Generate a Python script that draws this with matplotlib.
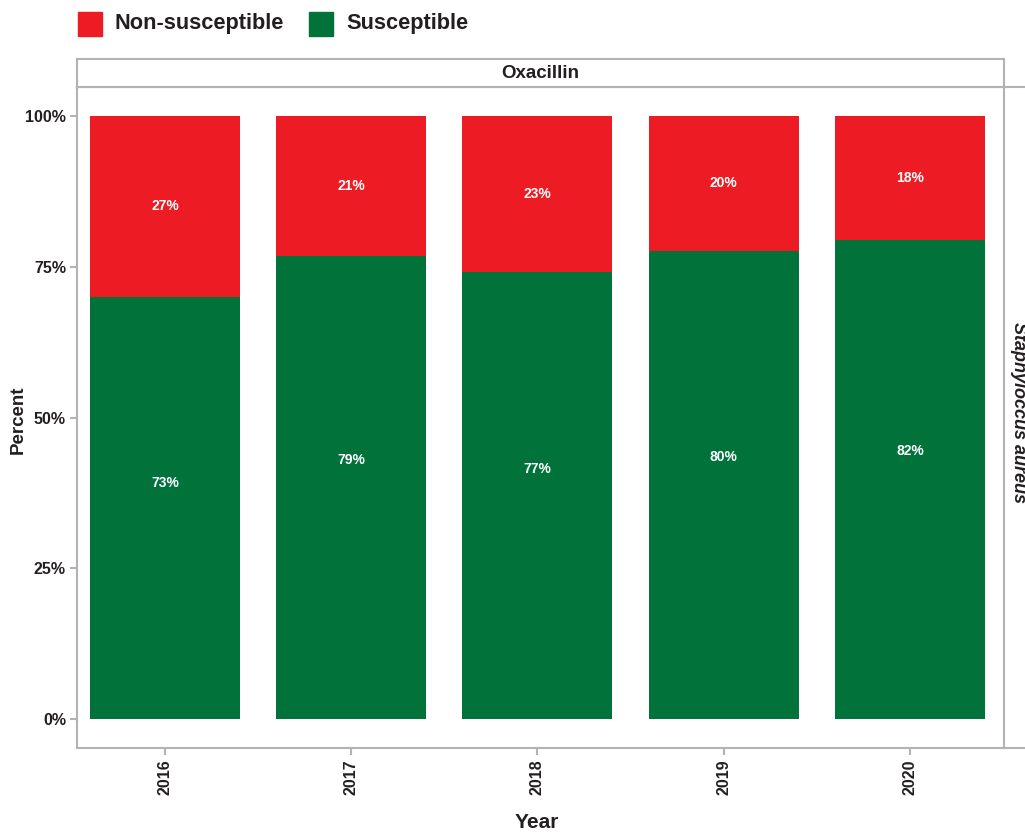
import numpy as np
import matplotlib
matplotlib.use("Agg")
import matplotlib.pyplot as plt
from matplotlib.patches import Rectangle
from matplotlib.lines import Line2D

plt.rcParams['font.family'] = ['Liberation Sans', 'DejaVu Sans']

# data
years = ['2016', '2017', '2018', '2019', '2020']
susceptible = [0.700, 0.768, 0.741, 0.776, 0.794]     # bar height of green part
nonsusceptible = [1 - s for s in susceptible]
susc_labels = ['73%', '79%', '77%', '80%', '82%']
nonsusc_labels = ['27%', '21%', '23%', '20%', '18%']

RED = '#ed1c24'
GREEN = '#00723a'
GRID = '#b3b3b5'
TXT = '#231f20'

W, H = 1025, 834
fig = plt.figure(figsize=(W / 100, H / 100), dpi=100)
fig.patch.set_facecolor('white')

def fx(px):
    return px / W

def fy(py):
    return 1 - py / H

# main panel
ax = fig.add_axes([fx(77), fy(748), fx(1004) - fx(77), fy(87) - fy(748)])
x = np.arange(len(years))
ax.bar(x, susceptible, width=0.805, color=GREEN, linewidth=0)
ax.bar(x, nonsusceptible, bottom=susceptible, width=0.805, color=RED, linewidth=0)

for i in range(len(years)):
    ax.text(x[i], susceptible[i] * 0.56, susc_labels[i], color='white',
            fontsize=10, fontweight='bold', ha='center', va='center')
    ax.text(x[i], susceptible[i] + nonsusceptible[i] / 2, nonsusc_labels[i],
            color='white', fontsize=10, fontweight='bold', ha='center', va='center')

ax.set_xlim(-0.472, 4.505)
ax.set_ylim(-0.048, 1.048)
ax.set_yticks([0, 0.25, 0.5, 0.75, 1.0])
ax.set_yticklabels(['0%', '25%', '50%', '75%', '100%'])
ax.set_xticks(x)
ax.set_xticklabels(years, rotation=90)
for lab in ax.get_xticklabels() + ax.get_yticklabels():
    lab.set_fontweight('bold')
    lab.set_fontsize(11.5)
    lab.set_color(TXT)
ax.tick_params(axis='both', color=GRID, length=5, width=1.5, pad=3)
for s in ax.spines.values():
    s.set_color(GRID)
    s.set_linewidth(1.5)

fig.text(fx(18), fy(420), 'Percent', rotation=90, fontsize=13.5, fontweight='bold',
         color=TXT, ha='center', va='center')
fig.text(fx(537), fy(823), 'Year', fontsize=15, fontweight='bold', color=TXT,
         ha='center', va='center')

# top strip
sax = fig.add_axes([fx(77), fy(87), fx(1004) - fx(77), fy(59) - fy(87)])
sax.set_xticks([])
sax.set_yticks([])
for s in sax.spines.values():
    s.set_color(GRID)
    s.set_linewidth(1.5)
sax.text(0.5, 0.5, 'Oxacillin', transform=sax.transAxes, fontsize=13.5,
         fontweight='bold', color=TXT, ha='center', va='center')

# right strip (cut off at figure edge)
fig.add_artist(Line2D([fx(1004), 1.0], [fy(748), fy(748)], color=GRID, lw=1.5))
fig.add_artist(Line2D([fx(1004), 1.0], [fy(87), fy(87)], color=GRID, lw=1.5))
fig.text(fx(1018), fy(412), 'Staphyloccus aureus', rotation=270, fontsize=13,
         fontweight='bold', fontstyle='italic', color=TXT, ha='center', va='center')

# legend
fig.add_artist(Rectangle((fx(78), fy(36)), fx(24), fy(12) - fy(36), color=RED))
fig.text(fx(115), fy(23), 'Non-susceptible', fontsize=15.7, fontweight='bold',
         color=TXT, ha='left', va='center')
fig.add_artist(Rectangle((fx(309), fy(36)), fx(24), fy(12) - fy(36), color=GREEN))
fig.text(fx(346), fy(23), 'Susceptible', fontsize=15.7, fontweight='bold',
         color=TXT, ha='left', va='center')

fig.savefig('out.png', dpi=100)
